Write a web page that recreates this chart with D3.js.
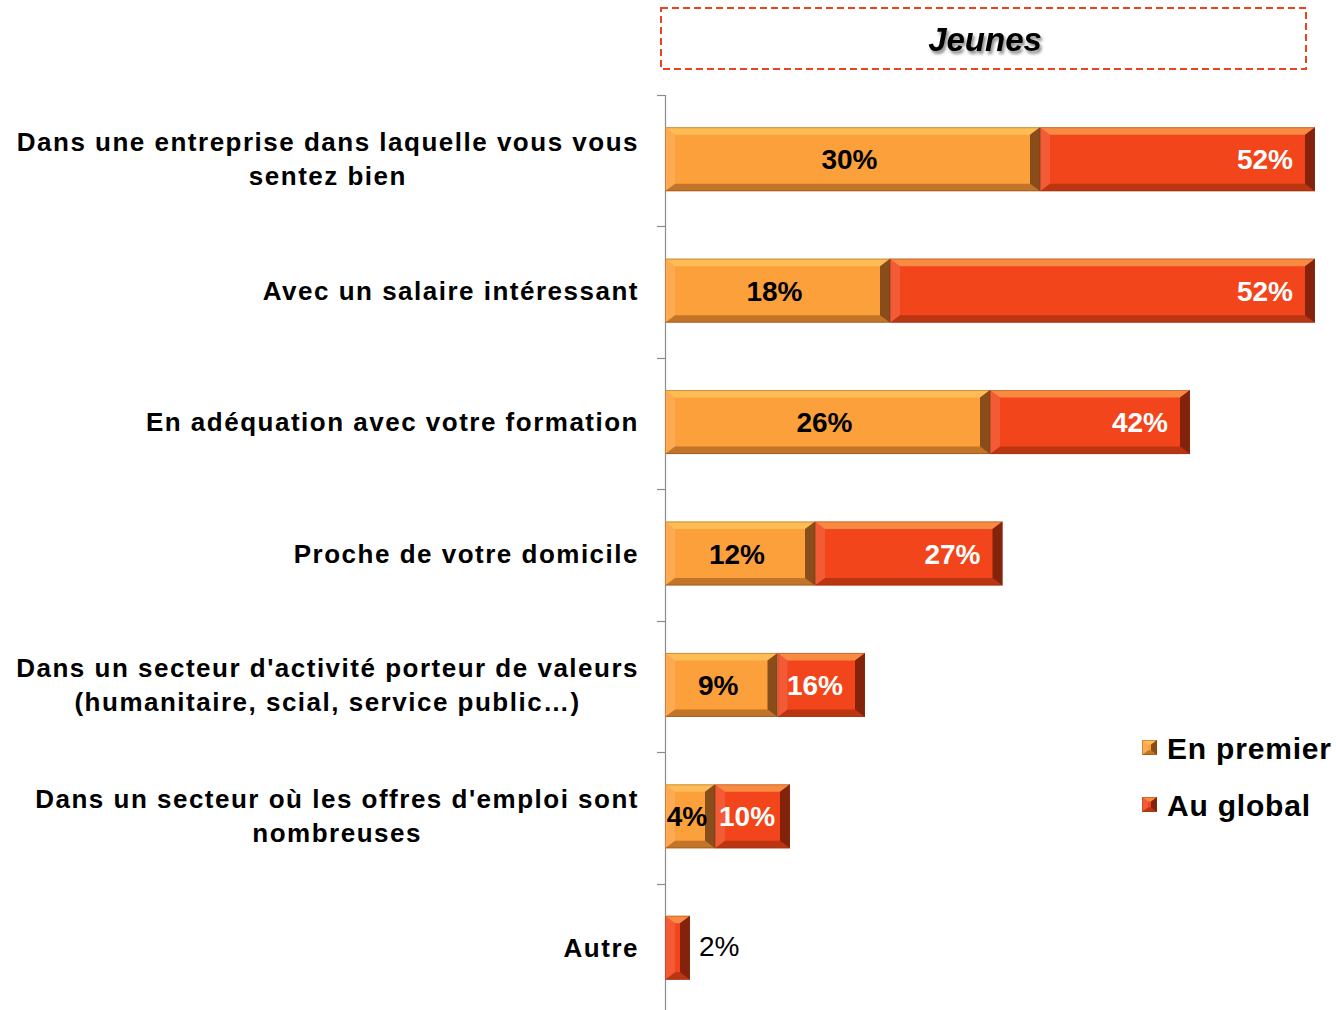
<!DOCTYPE html>
<html>
<head>
<meta charset="utf-8">
<script src="https://cdn.jsdelivr.net/npm/d3@7"></script>
<style>
  body { margin: 0; background: #fff; }
  svg { display: block; font-family: "Liberation Sans", Arial, sans-serif; }
</style>
</head>
<body>
<script>
// data
var categories = [
  "Dans une entreprise dans laquelle vous vous\nsentez bien",
  "Avec un salaire intéressant",
  "En adéquation avec votre formation",
  "Proche de votre domicile",
  "Dans un secteur d'activité porteur de valeurs\n(humanitaire, scial, service public…)",
  "Dans un secteur où les offres d'emploi sont\nnombreuses",
  "Autre"
];
var enPremier = [30, 18, 26, 12, 9, 4, 0];
var auGlobal = [52, 52, 42, 27, 16, 10, 2];
var seriesNames = ["En premier", "Au global"];
var colors = ["#FCA03C", "#F2451B"];

var W = 1336, H = 1010;
var svg = d3.select("body").append("svg")
    .attr("width", W)
    .attr("height", H);

var defs = svg.append("defs");
var shadow = defs.append("filter").attr("id", "tshadow")
    .attr("x", "-20%").attr("y", "-30%").attr("width", "140%").attr("height", "160%");
shadow.append("feDropShadow")
    .attr("dx", 2).attr("dy", 3).attr("stdDeviation", 1.5)
    .attr("flood-color", "#000").attr("flood-opacity", 0.45);

var x = d3.scaleLinear().domain([0, 52]).range([665, 1315]);
var y = d3.scaleBand().domain(categories).range([95, 1015]).padding(0);
var barH = 64;

// title box
svg.append("rect")
    .attr("x", 661).attr("y", 8)
    .attr("width", 645).attr("height", 61)
    .attr("fill", "none")
    .attr("stroke", "#E8441E")
    .attr("stroke-width", 2)
    .attr("stroke-dasharray", "7,4");

svg.append("text")
    .attr("x", 985).attr("y", 51)
    .attr("text-anchor", "middle")
    .attr("font-size", 33).attr("font-weight", "bold").attr("font-style", "italic")
    .attr("fill", "#000").attr("filter", "url(#tshadow)")
    .text("Jeunes");

// axis
var axisG = svg.append("g");
axisG.append("line")
    .attr("x1", 665.5).attr("x2", 665.5)
    .attr("y1", 95).attr("y2", H)
    .attr("stroke", "#8c8c8c").attr("stroke-width", 1.2);
var tickYs = categories.map(function(c) { return y(c); });
axisG.selectAll(".tick").data(tickYs).enter().append("line")
    .attr("x1", 657).attr("x2", 665)
    .attr("y1", function(d) { return Math.round(d) + 0.5; })
    .attr("y2", function(d) { return Math.round(d) + 0.5; })
    .attr("stroke", "#8c8c8c").attr("stroke-width", 1.2);

// bevelled block
function bevel(g, x0, y0, w, h, color, b) {
  if (w <= 0) return;
  var bx = Math.min(b, w / 2), by = Math.min(b * 0.75, h / 2);
  g.append("rect").attr("x", x0).attr("y", y0).attr("width", w).attr("height", h).attr("fill", color);
  // top
  g.append("path")
    .attr("d", "M" + x0 + "," + y0 + "L" + (x0 + w) + "," + y0 + "L" + (x0 + w - bx) + "," + (y0 + by) + "L" + (x0 + bx) + "," + (y0 + by) + "Z")
    .attr("fill", "#ffe070").attr("opacity", 0.45);
  // left
  g.append("path")
    .attr("d", "M" + x0 + "," + y0 + "L" + (x0 + bx) + "," + (y0 + by) + "L" + (x0 + bx) + "," + (y0 + h - by) + "L" + x0 + "," + (y0 + h) + "Z")
    .attr("fill", "#fff").attr("opacity", 0.12);
  // bottom
  g.append("path")
    .attr("d", "M" + x0 + "," + (y0 + h) + "L" + (x0 + bx) + "," + (y0 + h - by) + "L" + (x0 + w - bx) + "," + (y0 + h - by) + "L" + (x0 + w) + "," + (y0 + h) + "Z")
    .attr("fill", "#3a1000").attr("opacity", 0.3);
  // right
  g.append("path")
    .attr("d", "M" + (x0 + w) + "," + y0 + "L" + (x0 + w) + "," + (y0 + h) + "L" + (x0 + w - bx) + "," + (y0 + h - by) + "L" + (x0 + w - bx) + "," + (y0 + by) + "Z")
    .attr("fill", "#2a0800").attr("opacity", 0.55);
  g.append("rect").attr("x", x0 + 0.5).attr("y", y0 + 0.5).attr("width", w - 1).attr("height", h - 1)
    .attr("fill", "none").attr("stroke", "#7a3a10").attr("stroke-opacity", 0.35);
}

var barsG = svg.append("g");
categories.forEach(function(c, i) {
  var cy = y(c) + y.bandwidth() / 2 - 1.5;
  var y0 = cy - barH / 2;
  var g = barsG.append("g");
  var xs = x(0), xm = x(enPremier[i]), xe = x(auGlobal[i]);
  bevel(g, xs, y0, xm - xs, barH, colors[0], 10);
  bevel(g, xm, y0, xe - xm, barH, colors[1], 10);

  if (enPremier[i] > 0) {
    g.append("text")
      .attr("x", (xs + xm) / 2 - 3).attr("y", cy + 10)
      .attr("text-anchor", "middle")
      .attr("font-size", 28).attr("font-weight", "bold").attr("fill", "#000")
      .text(enPremier[i] + "%");
  }
  if (enPremier[i] > 0) {
    var t = g.append("text")
      .attr("y", cy + 10)
      .attr("font-size", 28).attr("font-weight", "bold").attr("fill", "#fff")
      .text(auGlobal[i] + "%");
    var tw = t.node().getComputedTextLength();
    var left = Math.max(xe - 22 - tw, xm + 4);
    t.attr("x", left);
  } else {
    g.append("text")
      .attr("x", xe + 9).attr("y", cy + 8)
      .attr("font-size", 28).attr("fill", "#000")
      .text(auGlobal[i] + "%");
  }
});

// category labels
var labelsG = svg.append("g");
categories.forEach(function(c) {
  var lines = c.split("\n");
  var cy = y(c) + y.bandwidth() / 2 - 1.5;
  var lh = 34;
  var t = labelsG.append("text")
    .attr("font-size", 26).attr("font-weight", "bold").attr("fill", "#000")
    .attr("letter-spacing", 1.5)
    .attr("text-anchor", "middle");
  var spans = lines.map(function(l, k) {
    return t.append("tspan").attr("y", cy + 9 + (k - (lines.length - 1) / 2) * lh).text(l);
  });
  var maxW = d3.max(spans, function(s) { return s.node().getComputedTextLength(); });
  spans.forEach(function(s) { s.attr("x", 639 - maxW / 2); });
});

// legend
var legendG = svg.append("g");
seriesNames.forEach(function(n, i) {
  var ly = 740 + i * 57;
  bevel(legendG, 1142, ly, 15, 15, colors[i], 6);
  legendG.append("text")
    .attr("x", 1167).attr("y", ly + 19)
    .attr("font-size", 30).attr("font-weight", "bold").attr("fill", "#000")
    .attr("letter-spacing", 0.8)
    .text(n);
});
</script>
</body>
</html>
